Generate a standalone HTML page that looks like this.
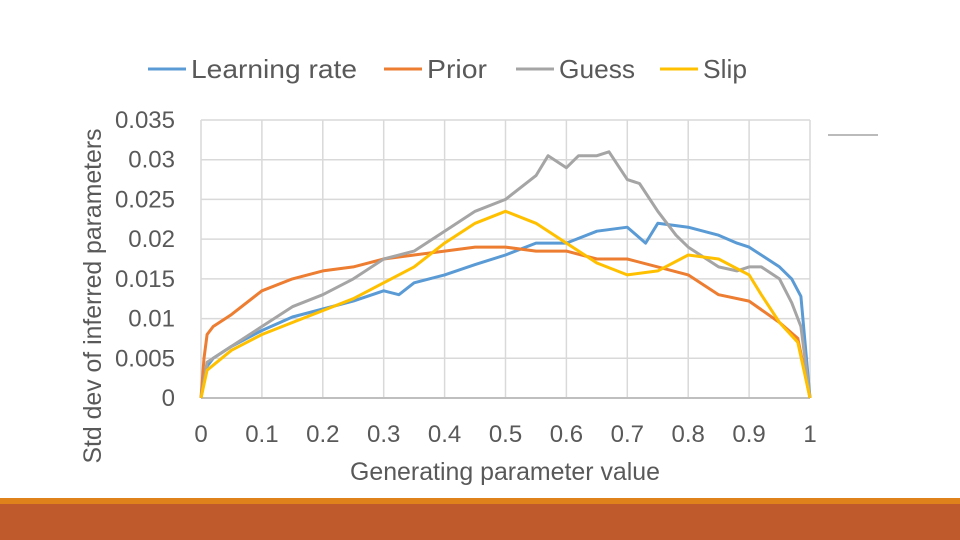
<!DOCTYPE html>
<html><head><meta charset="utf-8"><style>
body{margin:0;background:#fff;width:960px;height:540px;overflow:hidden;position:relative;font-family:"Liberation Sans",sans-serif}
</style></head><body>
<svg width="960" height="540" style="position:absolute;left:0;top:0">
<rect x="0" y="498" width="960" height="6" fill="#E0821C"/>
<rect x="0" y="504" width="960" height="36" fill="#BE5A2C"/>
<line x1="828" y1="135" x2="878" y2="135" stroke="#777" stroke-width="1"/>
<g id="grid"></g><g id="ticks"></g><g id="series"></g><g id="legend"></g>
<text x="505" y="480" text-anchor="middle" font-size="25" fill="#595959" textLength="310" lengthAdjust="spacingAndGlyphs">Generating parameter value</text>
<text transform="translate(101,296) rotate(-90)" text-anchor="middle" font-size="25" fill="#595959" textLength="335" lengthAdjust="spacingAndGlyphs">Std dev of inferred parameters</text>
</svg>
<script>
const xTicks=[0,0.1,0.2,0.3,0.4,0.5,0.6,0.7,0.8,0.9,1];
const xTickLabels=["0","0.1","0.2","0.3","0.4","0.5","0.6","0.7","0.8","0.9","1"];
const yTicks=[0,0.005,0.01,0.015,0.02,0.025,0.03,0.035];
const yTickLabels=["0","0.005","0.01","0.015","0.02","0.025","0.03","0.035"];
const seriesNames=["Learning rate","Prior","Guess","Slip"];
const lrX=[0,0.01,0.02,0.05,0.1,0.15,0.2,0.25,0.3,0.325,0.35,0.4,0.45,0.5,0.55,0.6,0.65,0.7,0.73,0.75,0.8,0.85,0.88,0.9,0.93,0.95,0.97,0.985,1];
const lrY=[0,0.004,0.005,0.0065,0.0085,0.0102,0.0112,0.0122,0.0135,0.013,0.0145,0.0155,0.0168,0.018,0.0195,0.0195,0.021,0.0215,0.0195,0.022,0.0215,0.0205,0.0195,0.019,0.0175,0.0165,0.015,0.0128,0];
const prX=[0,0.005,0.01,0.02,0.05,0.1,0.15,0.2,0.25,0.3,0.35,0.4,0.45,0.5,0.55,0.6,0.65,0.7,0.75,0.8,0.85,0.9,0.95,0.98,1];
const prY=[0,0.005,0.008,0.009,0.0105,0.0135,0.015,0.016,0.0165,0.0175,0.018,0.0185,0.019,0.019,0.0185,0.0185,0.0175,0.0175,0.0165,0.0155,0.013,0.0122,0.0095,0.0075,0];
const guX=[0,0.01,0.05,0.1,0.15,0.2,0.25,0.3,0.35,0.4,0.45,0.5,0.55,0.57,0.6,0.62,0.65,0.67,0.7,0.72,0.75,0.78,0.8,0.85,0.88,0.9,0.92,0.95,0.97,0.985,1];
const guY=[0,0.0045,0.0065,0.009,0.0115,0.013,0.015,0.0175,0.0185,0.021,0.0235,0.025,0.028,0.0305,0.029,0.0305,0.0305,0.031,0.0275,0.027,0.0235,0.0205,0.019,0.0165,0.016,0.0165,0.0165,0.015,0.012,0.009,0];
const slX=[0,0.01,0.05,0.1,0.15,0.2,0.25,0.3,0.35,0.4,0.45,0.5,0.55,0.6,0.65,0.7,0.75,0.8,0.85,0.9,0.92,0.95,0.98,1];
const slY=[0,0.0035,0.006,0.008,0.0095,0.011,0.0125,0.0145,0.0165,0.0195,0.022,0.0235,0.022,0.0195,0.017,0.0155,0.016,0.018,0.0175,0.0155,0.013,0.0095,0.007,0];
const colors=["#5B9BD5","#ED7D31","#A5A5A5","#FFC000"];
const X0=201,X1=810,Y0=398,Y1=120;
const sx=v=>X0+(X1-X0)*v, sy=v=>Y0-(Y0-Y1)*v/0.035;
const NS="http://www.w3.org/2000/svg";
function mk(tag,attrs,parent){const e=document.createElementNS(NS,tag);for(const k in attrs)e.setAttribute(k,attrs[k]);parent.appendChild(e);return e;}
const grid=document.getElementById('grid'),ticks=document.getElementById('ticks'),ser=document.getElementById('series'),leg=document.getElementById('legend');
xTicks.forEach((t,i)=>{const l=mk('line',{x1:sx(t),x2:sx(t),y1:Y1,y2:Y0,stroke:'#D9D9D9','stroke-width':1.5},grid);


const tx=mk('text',{x:sx(t),y:442,'text-anchor':'middle','font-size':24,fill:'#595959'},ticks);tx.textContent=xTickLabels[i];

});
yTicks.forEach((t,i)=>{const l=mk('line',{x1:X0,x2:X1,y1:sy(t),y2:sy(t),stroke:t===0?'#BFBFBF':'#D9D9D9','stroke-width':t===0?2:1.5},grid);


const tx=mk('text',{x:175,y:sy(t)+8,'text-anchor':'end','font-size':24,fill:'#595959'},ticks);tx.textContent=yTickLabels[i];

});
const data=[[lrX,lrY],[prX,prY],[guX,guY],[slX,slY]];
data.forEach((d,i)=>{const pts=d[0].map((x,j)=>sx(x).toFixed(1)+','+sy(d[1][j]).toFixed(1)).join(' ');
const p=mk('polyline',{points:pts,fill:'none',stroke:colors[i],'stroke-width':3,'stroke-linejoin':'round'},ser);

});
const legX=[148,384,516,660];
const legW=[166,60,76,44];
seriesNames.forEach((n,i)=>{const g=mk('g',{},leg);


mk('line',{x1:legX[i],x2:legX[i]+38,y1:69,y2:69,stroke:colors[i],'stroke-width':3},g);
const t=mk('text',{x:legX[i]+43,y:78,'font-size':26,fill:'#595959',textLength:legW[i],lengthAdjust:'spacingAndGlyphs'},g);t.textContent=n;});
</script>
</body></html>
